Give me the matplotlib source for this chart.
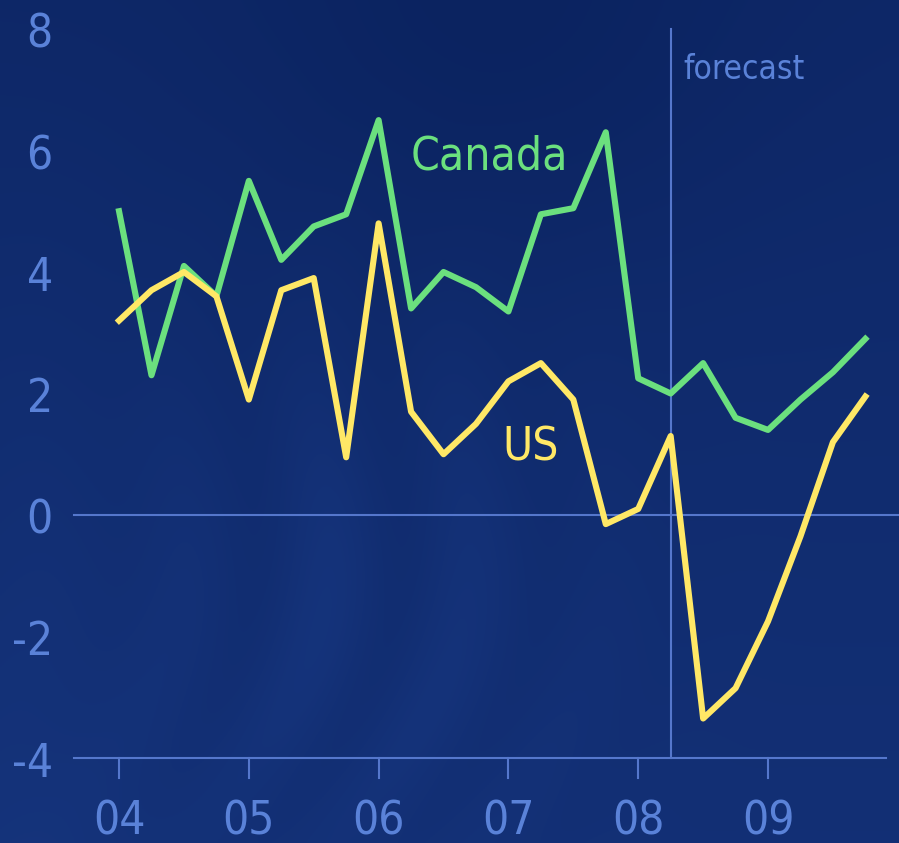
import numpy as np
import matplotlib
matplotlib.use('Agg')
import matplotlib.pyplot as plt

# quarterly real GDP growth, 2004Q1 .. 2009Q4
quarters = 2004 + np.arange(24) / 4.0
canada = [5.0, 2.3, 4.1, 3.6, 5.5, 4.2, 4.75, 4.95,
          6.5, 3.4, 4.0, 3.75, 3.35, 4.95, 5.05, 6.3,
          2.25, 2.0, 2.5, 1.6, 1.4, 1.9, 2.35, 2.9]
us = [3.2, 3.7, 4.0, 3.6, 1.9, 3.7, 3.9, 0.95,
      4.8, 1.7, 1.0, 1.5, 2.2, 2.5, 1.9, -0.15,
      0.1, 1.3, -3.35, -2.85, -1.75, -0.35, 1.2, 1.95]
year_ticks = [2004, 2005, 2006, 2007, 2008, 2009]
year_labels = ['04', '05', '06', '07', '08', '09']
y_ticks = [-4, -2, 0, 2, 4, 6, 8]
forecast_start = 2008.25

plt.rcParams['font.family'] = ['DejaVu Sans']
plt.rcParams['font.stretch'] = 'condensed'

text_col = '#5a82d8'
axis_col = '#5577cc'
green = '#6be07e'
yellow = '#ffe866'

fig = plt.figure(figsize=(8.99, 8.43), dpi=100)
ax = fig.add_axes([0, 0, 1, 1])
x0, x1 = 2003.083, 2010.009
y0, y1 = -5.399, 8.477
ax.set_xlim(x0, x1)
ax.set_ylim(y0, y1)
ax.axis('off')

# dark blue backdrop with soft diagonal streaks
h, w = 422, 450
yy, xx = np.mgrid[0:1:h * 1j, 0:1:w * 1j]
base = np.array([0.045, 0.14, 0.38])
light = np.array([0.10, 0.23, 0.53])
t = 0.18 + 0.35 * yy - 0.2 * np.exp(-((xx - 0.55) ** 2 + (yy - 0.05) ** 2) / 0.08)
t += 0.15 * np.exp(-((xx - 0.03) ** 2) / 0.02) * yy
u = xx * 1.0 + yy * 0.35
streak = 0.5 + 0.5 * np.sin(u * 38.0 + 3.0 * np.sin(yy * 6.0))
blob = np.exp(-((xx - 0.4) ** 2) / 0.05 - ((yy - 0.7) ** 2) / 0.08)
t += 0.25 * streak * blob
t = np.clip(t, 0, 1)[..., None]
bg = base * (1 - t) + light * t
ax.imshow(bg, extent=[x0, x1, y0, y1], aspect='auto', origin='upper', zorder=0)

# axes, zero line and forecast marker
ax.plot([2003.65, x1], [0, 0], color=axis_col, lw=1.5, zorder=1)
ax.plot([2003.65, x1 - 0.1], [-4, -4], color=axis_col, lw=1.5, zorder=1)
ax.plot([forecast_start, forecast_start], [-4, 8.0], color=axis_col, lw=1.5, zorder=1)
for yr, lab in zip(year_ticks, year_labels):
    ax.plot([yr, yr], [-4, -4.33], color=axis_col, lw=1.5, zorder=1)
    ax.text(yr, -5.26, lab, color=text_col, fontsize=33,
            ha='center', va='baseline')
for v in y_ticks:
    ax.text(2003.49, v - 0.1, str(v), color=text_col, fontsize=33,
            ha='right', va='center')
ax.text(forecast_start + 0.1, 7.33, 'forecast', color=text_col, fontsize=24,
        ha='left', va='center')

# the two series
ax.plot(quarters, canada, color=green, lw=4.4, zorder=3)
ax.plot(quarters, us, color=yellow, lw=4.4, zorder=3)
ax.text(2006.85, 5.9, 'Canada', color=green, fontsize=33, ha='center', va='center')
ax.text(2007.17, 1.1, 'US', color=yellow, fontsize=33, ha='center', va='center')

fig.savefig('out.png', dpi=100)
